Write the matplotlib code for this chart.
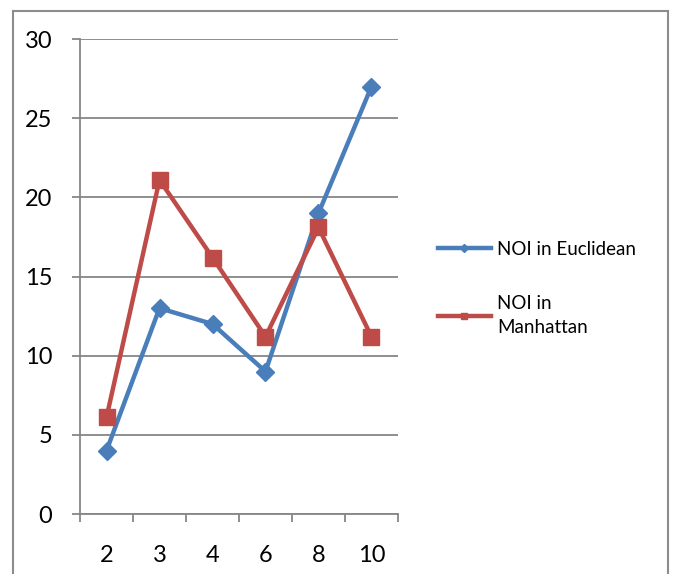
import matplotlib.pyplot as plt
from matplotlib.lines import Line2D

plt.rcParams['font.family'] = ['Lato', 'DejaVu Sans']

categories = ['2', '3', '4', '6', '8', '10']
euclidean = [4, 13, 12, 9, 19, 27]
manhattan = [6.1, 21.1, 16.2, 11.2, 18.1, 11.2]

blue = '#4A7EBB'
red = '#BE4B48'
grid_c = '#868686'

fig = plt.figure(figsize=(6.74, 5.74), dpi=100)
ax = fig.add_axes([0.1187, 0.1045, 0.4718, 0.8275])

x = list(range(len(categories)))
ax.plot(x, euclidean, color=blue, lw=3.2, marker='D', ms=9, label='NOI in Euclidean', zorder=3)
ax.plot(x, manhattan, color=red, lw=3.2, marker='s', ms=11, label='NOI in\nManhattan', zorder=3)

ax.set_xlim(-0.5, len(categories) - 0.5)
ax.set_ylim(0, 30)
ax.set_yticks(range(0, 31, 5))
ax.set_xticks(x)
ax.set_xticklabels(categories)
ax.set_xticks([i - 0.5 for i in range(len(categories) + 1)], minor=True)
ax.tick_params(axis='x', which='major', length=0, pad=22, labelsize=17)
ax.tick_params(axis='x', which='minor', length=6, width=1.3, color=grid_c, direction='out')
ax.tick_params(axis='y', length=6, width=1.3, color=grid_c, pad=14, labelsize=17)
ax.yaxis.grid(True, color=grid_c, lw=1.3)
ax.set_axisbelow(True)
for s in ['top', 'right']:
    ax.spines[s].set_visible(False)
for s in ['left', 'bottom']:
    ax.spines[s].set_color(grid_c)
    ax.spines[s].set_linewidth(1.3)

leg = ax.legend(loc='upper left', bbox_to_anchor=(0.625, 0.61), bbox_transform=fig.transFigure,
                frameon=False, fontsize=13.5, markerscale=0.45, handlelength=2.8,
                handletextpad=0.35, labelspacing=2.0)
for t in leg.get_texts():
    t.set_linespacing(1.5)

# outer chart border
bc = '#8c8c8c'
fig.add_artist(Line2D([13 / 674, 13 / 674], [0, 1 - 11 / 574], color=bc, lw=1.5))
fig.add_artist(Line2D([13 / 674, 668 / 674], [1 - 11 / 574, 1 - 11 / 574], color=bc, lw=1.5))
fig.add_artist(Line2D([668 / 674, 668 / 674], [0, 1 - 11 / 574], color=bc, lw=1.5))

fig.savefig('out.png', dpi=100)
